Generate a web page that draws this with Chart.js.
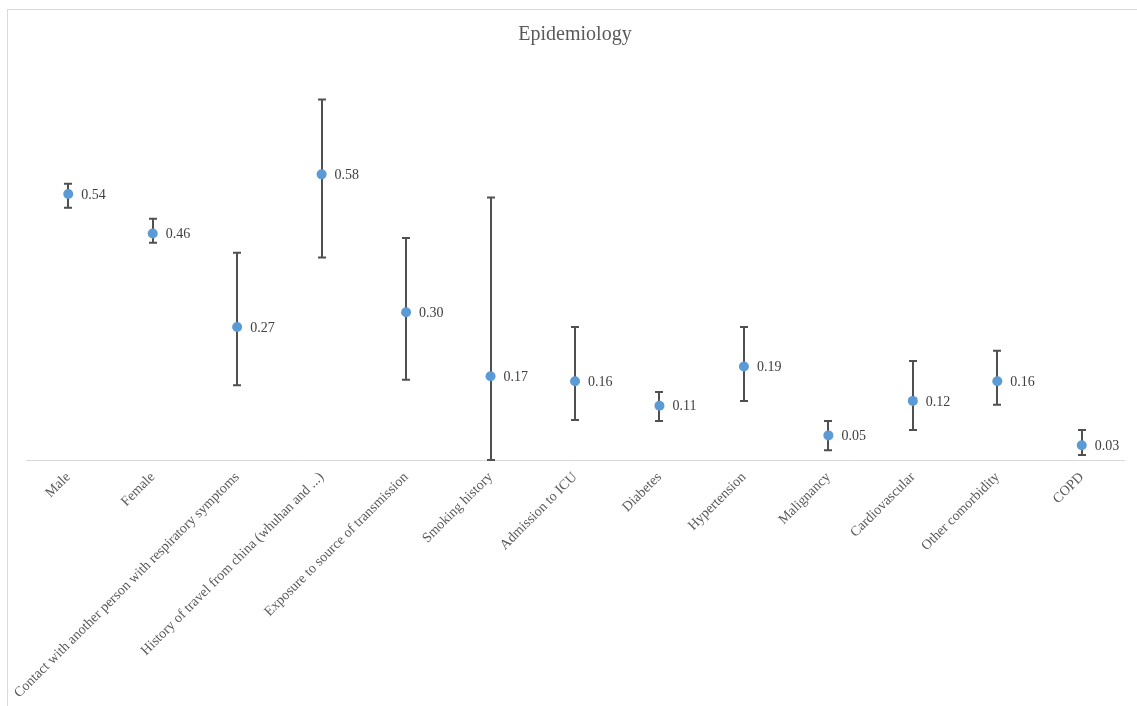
<!DOCTYPE html>
<html>
<head>
<meta charset="utf-8">
<script src="https://cdn.jsdelivr.net/npm/chart.js@4/dist/chart.umd.min.js"></script>
<style>
  html, body { margin: 0; padding: 0; background: #ffffff; overflow: hidden; }
  #wrap { position: relative; width: 1137px; height: 706px; }
  #frame { position: absolute; left: 7px; top: 9px; width: 1200px; height: 800px; border: 1px solid #d9d9d9; box-sizing: border-box; }
  #c { position: absolute; left: 0; top: 0; }
</style>
</head>
<body>
<div id="wrap">
  <div id="frame"></div>
  <canvas id="c" width="1137" height="706"></canvas>
</div>
<script>
// Categories and pooled estimates with their confidence limits
const categories = [
  'Male',
  'Female',
  'Contact with another person with respiratory symptoms',
  'History of travel from china (whuhan and ...)',
  'Exposure to source of transmission',
  'Smoking history',
  'Admission to ICU',
  'Diabetes',
  'Hypertension',
  'Malignancy',
  'Cardiovascular',
  'Other comorbidity',
  'COPD'
];
const estimates = [0.54, 0.46, 0.27, 0.58, 0.30, 0.17, 0.16, 0.11, 0.19, 0.05, 0.12, 0.16, 0.03];
const lowerCI   = [0.512, 0.441, 0.152, 0.411, 0.163, 0.000, 0.081, 0.079, 0.120, 0.020, 0.061, 0.112, 0.010];
const upperCI   = [0.561, 0.490, 0.421, 0.732, 0.451, 0.533, 0.270, 0.138, 0.270, 0.079, 0.201, 0.222, 0.061];

const FONT = '"Liberation Serif", "Times New Roman", serif';

// Draws vertical interval whiskers with end caps behind the points
const errorBars = {
  id: 'errorBars',
  beforeDatasetsDraw(chart) {
    const { ctx, scales: { x, y } } = chart;
    ctx.save();
    ctx.strokeStyle = '#505050';
    ctx.lineWidth = 2;
    ctx.lineCap = 'butt';
    categories.forEach((c, i) => {
      const px = Math.round(x.getPixelForValue(i));
      const yl = y.getPixelForValue(lowerCI[i]);
      const yh = y.getPixelForValue(upperCI[i]);
      ctx.beginPath();
      ctx.moveTo(px, yl); ctx.lineTo(px, yh);
      ctx.moveTo(px - 4, yl); ctx.lineTo(px + 4, yl);
      ctx.moveTo(px - 4, yh); ctx.lineTo(px + 4, yh);
      ctx.stroke();
    });
    ctx.restore();
  }
};

// Writes each estimate to the right of its point
const valueLabels = {
  id: 'valueLabels',
  afterDatasetsDraw(chart) {
    const { ctx, scales: { x, y } } = chart;
    ctx.save();
    ctx.fillStyle = '#404040';
    ctx.font = '14px ' + FONT;
    ctx.textAlign = 'left';
    ctx.textBaseline = 'middle';
    estimates.forEach((v, i) => {
      ctx.fillText(v.toFixed(2), x.getPixelForValue(i) + 13, y.getPixelForValue(v) + 1);
    });
    ctx.restore();
  }
};

new Chart(document.getElementById('c'), {
  type: 'line',
  data: {
    labels: categories,
    datasets: [{
      data: estimates,
      showLine: false,
      pointRadius: 5,
      pointHoverRadius: 5,
      pointBorderWidth: 0,
      pointBackgroundColor: '#5b9bd5',
      pointBorderColor: '#5b9bd5'
    }]
  },
  options: {
    responsive: false,
    animation: false,
    events: [],
    layout: { padding: { left: 26, right: 13, top: 11, bottom: 0 } },
    plugins: {
      legend: { display: false },
      tooltip: { enabled: false },
      title: {
        display: true,
        text: 'Epidemiology',
        color: '#595959',
        font: { family: FONT, size: 20, weight: 'normal' },
        padding: { top: 12, bottom: 19 }
      }
    },
    scales: {
      x: {
        offset: true,
        grid: { display: false, drawTicks: false },
        border: { display: true, color: '#d9d9d9', width: 1 },
        ticks: {
          color: '#595959',
          font: { family: FONT, size: 14 },
          minRotation: 45,
          maxRotation: 45,
          autoSkip: false,
          padding: 9
        },
        afterFit(scale) { scale.height = 246; }
      },
      y: {
        display: false,
        min: 0,
        max: 0.8
      }
    }
  },
  plugins: [errorBars, valueLabels]
});
</script>
</body>
</html>
